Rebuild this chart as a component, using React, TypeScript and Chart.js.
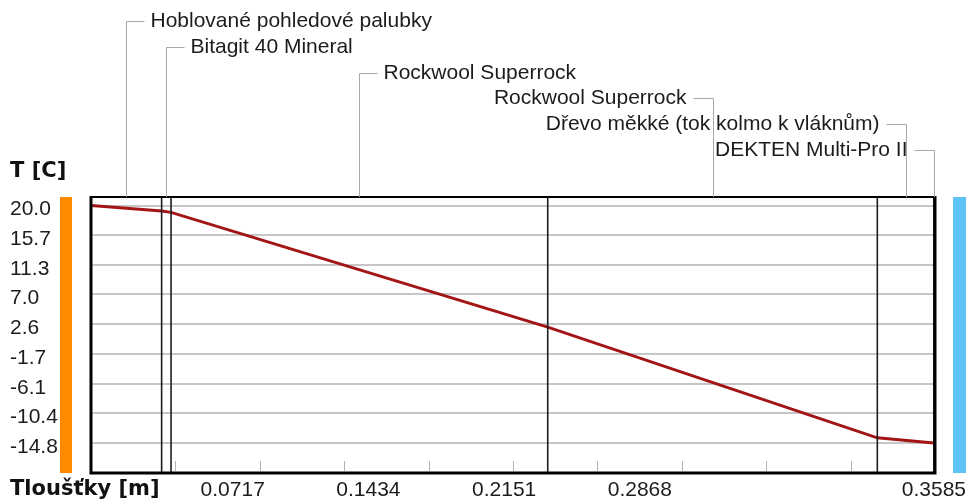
import React, { useEffect, useRef } from 'react';
import { Chart, registerables } from 'chart.js';

Chart.register(...registerables);

// ---- data ----
const layerNames = [
  'Hoblované pohledové palubky',
  'Bitagit 40 Mineral',
  'Rockwool Superrock',
  'Rockwool Superrock',
  'Dřevo měkké (tok kolmo k vláknům)',
  'DEKTEN Multi-Pro II',
];
const layerThickness = [0.03, 0.004, 0.16, 0.14, 0.024, 0.0005];
const interfaceTemps = [20.0, 19.2, 19.0, 2.2, -14.0, -14.75, -14.8];
const yTickValues = [20.0, 15.7, 11.3, 7.0, 2.6, -1.7, -6.1, -10.4, -14.8];
const xTickLabels = ['0.0717', '0.1434', '0.2151', '0.2868', '0.3585'];
const xMinorStep = 0.03585;
const xMax = 0.3585;
const yMin = -19.15;
const yMax = 21.25;
const yTitle = 'T [C]';
const xTitle = 'Tloušťky [m]';

const interfacePositions: number[] = [0];
layerThickness.forEach((t, i) => interfacePositions.push(interfacePositions[i] + t));

const LABEL_FONT = '21px "Liberation Sans", Arial, sans-serif';
const TITLE_FONT = 'bold 21px "DejaVu Sans", sans-serif';
const TEXT_COLOR = '#1c1c1c';

const decorPlugin = {
  id: 'decor',
  afterDatasetsDraw(chart: any) {
    const { ctx, chartArea: a, scales } = chart;
    const x = scales.x;
    ctx.save();
    // minor tick marks along bottom
    ctx.strokeStyle = '#b4b4b4';
    ctx.lineWidth = 1;
    x.ticks.forEach((t: any) => {
      if (t.value <= 0 || t.value >= xMax - 1e-6) return;
      const px = Math.round(x.getPixelForValue(t.value)) + 0.5;
      ctx.beginPath();
      ctx.moveTo(px, a.bottom - 12);
      ctx.lineTo(px, a.bottom - 2);
      ctx.stroke();
    });
    // layer boundaries
    ctx.strokeStyle = '#1e1e1e';
    ctx.lineWidth = 1.6;
    for (let i = 1; i < interfacePositions.length - 1; i++) {
      const px = x.getPixelForValue(interfacePositions[i]);
      ctx.beginPath();
      ctx.moveTo(px, a.top);
      ctx.lineTo(px, a.bottom);
      ctx.stroke();
    }
    // frame
    ctx.strokeStyle = '#000';
    ctx.lineWidth = 2;
    ctx.beginPath();
    ctx.moveTo(a.left, a.top);
    ctx.lineTo(a.right, a.top);
    ctx.stroke();
    ctx.lineWidth = 3;
    ctx.beginPath();
    ctx.moveTo(a.left, a.top - 1);
    ctx.lineTo(a.left, a.bottom);
    ctx.lineTo(a.right, a.bottom);
    ctx.lineTo(a.right, a.top - 1);
    ctx.stroke();
    ctx.restore();
  },
  afterDraw(chart: any) {
    const { ctx, chartArea: a, scales } = chart;
    const x = scales.x;
    ctx.save();
    // side colour bars
    ctx.fillStyle = '#ff8a00';
    ctx.fillRect(a.left - 31, a.top, 12, a.bottom - a.top);
    ctx.fillStyle = '#5ec3f7';
    ctx.fillRect(a.right + 18, a.top, 13, a.bottom - a.top);

    // layer labels with leader lines
    const mid = (a.left + a.right) / 2;
    ctx.font = LABEL_FONT;
    ctx.textBaseline = 'middle';
    layerNames.forEach((name, i) => {
      const cx = Math.round(x.getPixelForValue((interfacePositions[i] + interfacePositions[i + 1]) / 2)) + 0.5;
      const ly = Math.round(21 + i * 25.8) + 0.5;
      ctx.strokeStyle = '#a8a8a8';
      ctx.lineWidth = 1;
      ctx.beginPath();
      ctx.moveTo(cx, a.top);
      ctx.lineTo(cx, ly);
      if (cx < mid) ctx.lineTo(cx + 18, ly);
      else ctx.lineTo(cx - 20, ly);
      ctx.stroke();
      ctx.fillStyle = TEXT_COLOR;
      if (cx < mid) {
        ctx.textAlign = 'left';
        ctx.fillText(name, cx + 24, ly);
      } else {
        ctx.textAlign = 'right';
        ctx.fillText(name, cx - 27, ly);
      }
    });

    // x tick labels
    ctx.fillStyle = TEXT_COLOR;
    ctx.font = LABEL_FONT;
    const step = (a.right - a.left) * 0.1608;
    const ly = a.bottom + 17;
    xTickLabels.forEach((lab, i) => {
      if (i === xTickLabels.length - 1) {
        ctx.textAlign = 'right';
        ctx.fillText(lab, a.right + 31, ly);
      } else {
        ctx.textAlign = 'center';
        ctx.fillText(lab, a.left + 6 + (i + 1) * step, ly);
      }
    });

    // titles
    ctx.font = TITLE_FONT;
    ctx.textAlign = 'left';
    ctx.fillStyle = '#111';
    ctx.fillText(yTitle, 10, a.top - 25);
    ctx.fillText(xTitle, 10, a.bottom + 17);
    ctx.restore();
  },
};

export default function App() {
  const ref = useRef<HTMLCanvasElement>(null);
  useEffect(() => {
    if (!ref.current) return;
    const chart = new Chart(ref.current, {
      type: 'line',
      data: {
        datasets: [
          {
            data: interfacePositions.map((p, i) => ({ x: p, y: interfaceTemps[i] })),
            borderColor: '#a31515',
            borderWidth: 3,
            pointRadius: 0,
            tension: 0,
            fill: false,
          },
        ],
      },
      options: {
        responsive: false,
        animation: false,
        layout: { padding: { left: 10, top: 197, right: 34, bottom: 31 } },
        plugins: { legend: { display: false }, tooltip: { enabled: false }, title: { display: false } },
        scales: {
          x: {
            type: 'linear',
            min: 0,
            max: xMax,
            ticks: { display: false, stepSize: xMinorStep },
            grid: { display: false },
            border: { display: false },
            afterFit: (s: any) => { s.height = 0; },
          },
          y: {
            type: 'linear',
            min: yMin,
            max: yMax,
            afterBuildTicks: (s: any) => { s.ticks = yTickValues.map((v) => ({ value: v })); },
            afterFit: (s: any) => { s.width = 81; },
            ticks: {
              crossAlign: 'far',
              labelOffset: 4,
              font: { family: '"Liberation Sans", Arial, sans-serif', size: 21 },
              color: TEXT_COLOR,
              callback: (v: any) => Number(v).toFixed(1),
            },
            grid: { color: '#c6c6c6', lineWidth: 2, drawTicks: false },
            border: { display: false },
          },
        },
      },
      plugins: [decorPlugin],
    });
    return () => chart.destroy();
  }, []);
  return (
    <div style={{ position: 'absolute', left: 0, top: 0, width: 969, height: 504, background: '#fff' }}>
      <canvas ref={ref} width={969} height={504} style={{ display: 'block' }} />
    </div>
  );
}
